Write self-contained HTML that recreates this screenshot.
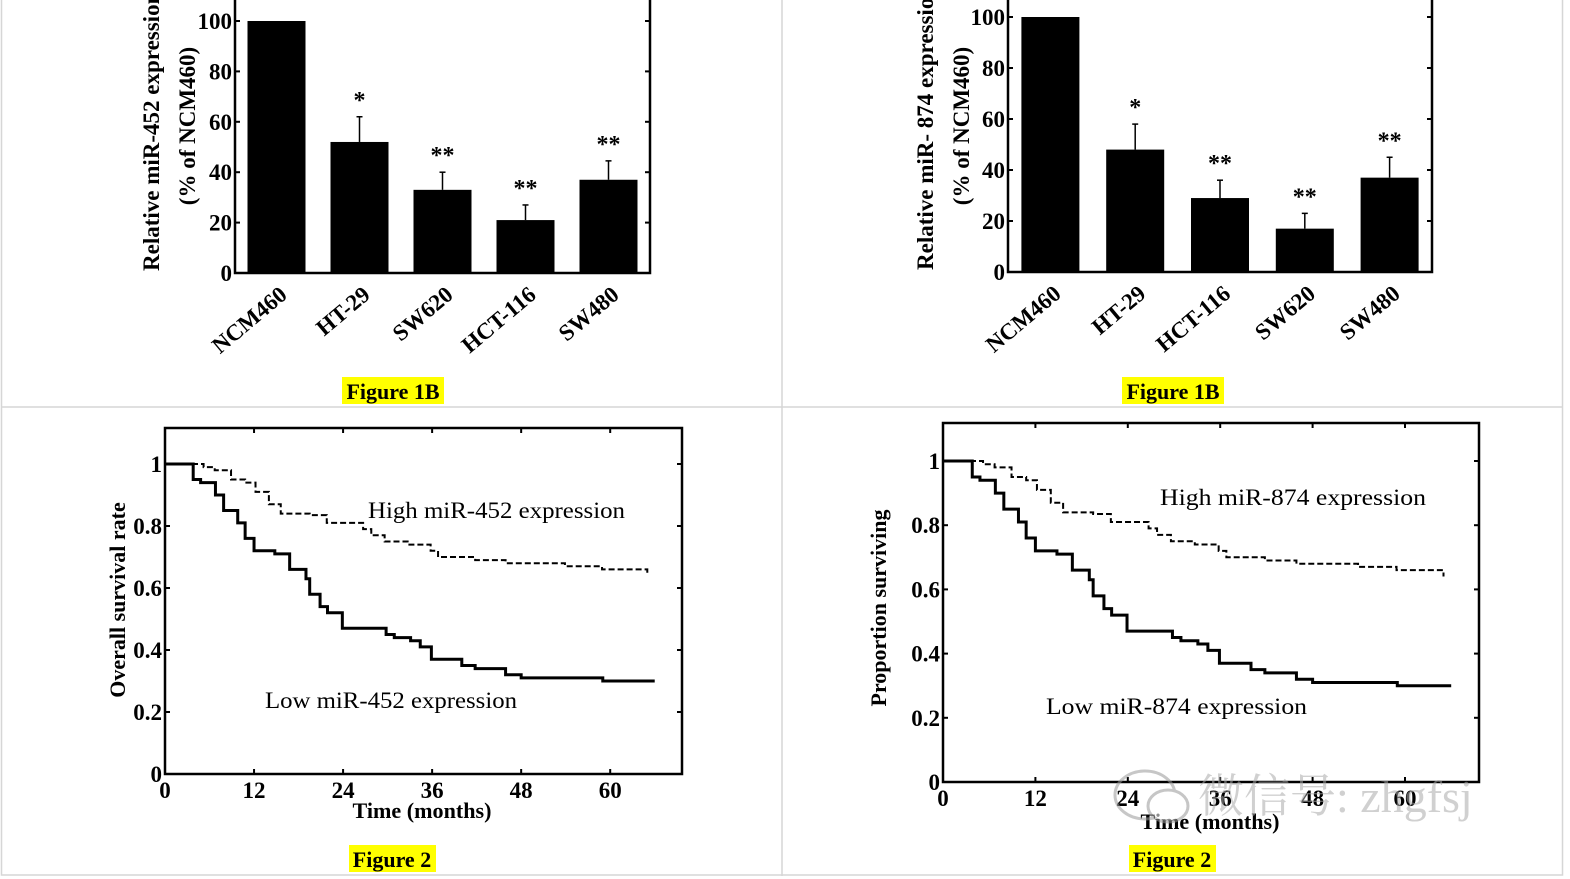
<!DOCTYPE html>
<html><head><meta charset="utf-8"><style>
html,body{margin:0;padding:0;background:#fff;width:1570px;height:879px;overflow:hidden}
svg text{font-family:"Liberation Serif","Noto Serif CJK SC",serif}
</style></head><body>
<svg id="s" width="1570" height="879" xmlns="http://www.w3.org/2000/svg">
<g stroke="#d6d6d6" stroke-width="1.5" fill="none">
<rect x="1.5" y="-2" width="1561" height="877"/>
<line x1="782" y1="0" x2="782" y2="876"/>
<line x1="1" y1="407" x2="1563" y2="407"/>
</g>
<g><rect x="342" y="377" width="102" height="27" fill="#ffff00"/><text x="393" y="399" font-size="22" font-weight="bold" text-anchor="middle">Figure 1B</text></g>
<g><rect x="1122" y="377" width="102" height="27" fill="#ffff00"/><text x="1173" y="399" font-size="22" font-weight="bold" text-anchor="middle">Figure 1B</text></g>
<g><rect x="349" y="845" width="87" height="27" fill="#ffff00"/><text x="392" y="867" font-size="22" font-weight="bold" text-anchor="middle">Figure 2</text></g>
<g><rect x="1129" y="845" width="87" height="27" fill="#ffff00"/><text x="1172" y="867" font-size="22" font-weight="bold" text-anchor="middle">Figure 2</text></g>
</svg>
<script>
// ---- data ----
const barCats1 = ["NCM460","HT-29","SW620","HCT-116","SW480"];
const barVals1 = [100,52,33,21,37];
const barErr1 = [0,62,40,27,44.5];
const barSig1 = ["","*","**","**","**"];
const barCats2 = ["NCM460","HT-29","HCT-116","SW620","SW480"];
const barVals2 = [100,48,29,17,37];
const barErr2 = [0,58,36,23,45];
const barSig2 = ["","*","**","**","**"];
const barTicks = [0,20,40,60,80,100];
const lowT = [3.8,4.8,6.8,7.9,9.8,10.8,12,14.8,16.8,19,19.5,20.9,21.9,23.9,29.8,30.9,33.1,34.4,35.9,40,41.8,45.9,48,59];
const lowS = [0.95,0.94,0.90,0.85,0.81,0.76,0.72,0.71,0.66,0.63,0.58,0.54,0.52,0.47,0.45,0.44,0.43,0.41,0.37,0.35,0.34,0.32,0.31,0.30];
const lowEnd = 66;
const highT = [5.2,6.7,8.9,10.8,12.2,14,15.6,19.5,21.8,26.7,27.8,29.6,32.7,35.8,36.8,41.8,45.9,53.9,58.9,65];
const highS = [0.99,0.98,0.95,0.94,0.91,0.87,0.84,0.835,0.81,0.79,0.77,0.75,0.74,0.72,0.70,0.69,0.68,0.67,0.66,0.64];
const highEnd = 65;
const kmXTicks = [0,12,24,36,48,60];
const kmYTicks = [0,0.2,0.4,0.6,0.8,1];
const kmYLabels = ["0","0.2","0.4","0.6","0.8","1"];

const NS="http://www.w3.org/2000/svg", svg=document.getElementById('s');
function el(tag,attrs,parent,txt){const e=document.createElementNS(NS,tag);for(const k in attrs)e.setAttribute(k,attrs[k]);if(txt!==undefined)e.textContent=txt;(parent||svg).appendChild(e);return e;}

function barChart(o,cats,vals,errs,sigs,name){
  const g=el('g',{});
  
  
  const y=v=>o.y0-(v/100)*(o.y0-o.y100);
  const step=(o.right-o.left)/cats.length;
  const x=i=>o.left+step*(i+0.5);
  cats.forEach((c,i)=>{
    const b=el('rect',{x:x(i)-29,y:y(vals[i]),width:58,height:o.y0-y(vals[i]),fill:'#000'},g);
    
    
    if(errs[i]>vals[i]){
      el('line',{x1:x(i),x2:x(i),y1:y(vals[i]),y2:y(errs[i]),stroke:'#000','stroke-width':1.5},g);
      el('line',{x1:x(i)-3,x2:x(i)+3,y1:y(errs[i]),y2:y(errs[i]),stroke:'#000','stroke-width':1.5},g);
    }
    if(sigs[i]){const t=el('text',{x:x(i),y:y(errs[i])-9,'font-size':24,'font-weight':'bold','text-anchor':'middle'},g,sigs[i]);
      
      }
    const l=el('text',{x:0,y:0,'font-size':23,'font-weight':'bold','text-anchor':'end',transform:`translate(${x(i)+12},${o.y0+24}) rotate(-40)`},g,c);
    
    
  });
  el('path',{d:`M${o.left},0 V${o.y0} H${o.right} V0`,fill:'none',stroke:'#000','stroke-width':2.5},g);
  barTicks.forEach(t=>{
    el('line',{x1:o.left,x2:o.left+5,y1:y(t),y2:y(t),stroke:'#000','stroke-width':2},g);
    el('line',{x1:o.right-5,x2:o.right,y1:y(t),y2:y(t),stroke:'#000','stroke-width':2},g);
    const tl=el('text',{x:o.left-3,y:y(t)+8,'font-size':23,'font-weight':'bold','text-anchor':'end'},g,String(t));
    
    
  });
  const a=el('text',{x:0,y:0,'font-size':23,'font-weight':'bold','text-anchor':'start',transform:`translate(${o.lx1},${o.y0-2}) rotate(-90)`},g,o.label);
  
  
  const a2=el('text',{x:0,y:0,'font-size':23,'font-weight':'bold','text-anchor':'middle',transform:`translate(${o.lx2},126) rotate(-90)`},g,'(% of NCM460)');
  
  
}
barChart({left:235,right:650,y0:273,y100:21,lx1:159,lx2:195,label:'Relative miR-452 expression'},barCats1,barVals1,barErr1,barSig1,'bar-chart-mir452');
barChart({left:1008,right:1432,y0:272,y100:17,lx1:933,lx2:969,label:'Relative miR- 874 expression'},barCats2,barVals2,barErr2,barSig2,'bar-chart-mir874');

function km(o,name){
  const g=el('g',{});
  
  
  const x=t=>o.x0+t*o.pm, y=s=>o.yb-(s)*(o.yb-o.y1);
  function path(T,S,end){let d=`M${x(0)},${y(1)}`;for(let i=0;i<T.length;i++){d+=` H${x(T[i])} V${y(S[i])}`;}d+=` H${x(end)}`;return d;}
  const hp=el('path',{d:path(highT,highS,highEnd),fill:'none',stroke:'#000','stroke-width':2,'stroke-dasharray':'6,3'},g);
  
  
  const lp=el('path',{d:path(lowT,lowS,lowEnd),fill:'none',stroke:'#000','stroke-width':3},g);
  
  
  el('rect',{x:o.left,y:o.top,width:o.right-o.left,height:o.yb-o.top,fill:'none',stroke:'#000','stroke-width':2.5},g);
  kmXTicks.forEach(t=>{
    el('line',{x1:x(t),x2:x(t),y1:o.yb,y2:o.yb-5,stroke:'#000','stroke-width':2},g);
    el('line',{x1:x(t),x2:x(t),y1:o.top,y2:o.top+5,stroke:'#000','stroke-width':2},g);
    const tl=el('text',{x:x(t),y:o.yb+24,'font-size':23,'font-weight':'bold','text-anchor':'middle'},g,String(t));
    
    
  });
  kmYTicks.forEach((t,i)=>{
    el('line',{x1:o.left,x2:o.left+5,y1:y(t),y2:y(t),stroke:'#000','stroke-width':2},g);
    el('line',{x1:o.right-5,x2:o.right,y1:y(t),y2:y(t),stroke:'#000','stroke-width':2},g);
    const tl=el('text',{x:o.left-3,y:y(t)+8,'font-size':23,'font-weight':'bold','text-anchor':'end'},g,kmYLabels[i]);
    
    
  });
  const yt=el('text',{x:0,y:0,'font-size':22,'font-weight':'bold','text-anchor':'middle',transform:`translate(${o.lx},${o.ly}) rotate(-90)`},g,o.ylabel);
  
  
  const xt=el('text',{x:o.tx,y:o.ty,'font-size':22,'font-weight':'bold','text-anchor':'middle',textLength:139,lengthAdjust:'spacingAndGlyphs'},g,'Time (months)');
  
  
  const hl=el('text',{x:o.hx,y:o.hy,'font-size':23,textLength:o.hw,lengthAdjust:'spacingAndGlyphs'},g,o.high);
  
  
  const ll=el('text',{x:o.lowx,y:o.lowy,'font-size':23,textLength:o.lw,lengthAdjust:'spacingAndGlyphs'},g,o.low);
  
  
}
km({left:165,right:682,top:428,yb:774,y1:464,x0:165,pm:7.42,lx:125,ly:600,ylabel:'Overall survival rate',tx:422,ty:818,hx:368,hy:518,hw:257,high:'High miR-452 expression',lowx:265,lowy:708,lw:252,low:'Low miR-452 expression'},'km-plot-mir452');
km({left:943,right:1479,top:423,yb:782,y1:461,x0:943,pm:7.7,lx:886,ly:608,ylabel:'Proportion surviving',tx:1210,ty:829,hx:1160,hy:505,hw:266,high:'High miR-874 expression',lowx:1046,lowy:714,lw:261,low:'Low miR-874 expression'},'km-plot-mir874');

const wm=el('g',{opacity:0.55});


el('ellipse',{cx:1145,cy:795,rx:30,ry:24,fill:'none',stroke:'#999','stroke-width':3},wm);
el('ellipse',{cx:1168,cy:806,rx:20,ry:16,fill:'#fff',stroke:'#999','stroke-width':3},wm);
el('text',{x:1198,y:812,'font-size':46,fill:'#aaa','font-family':'"Liberation Sans","Noto Sans CJK SC",sans-serif'},wm,'微信号: zhgfsj');
</script>
</body></html>
